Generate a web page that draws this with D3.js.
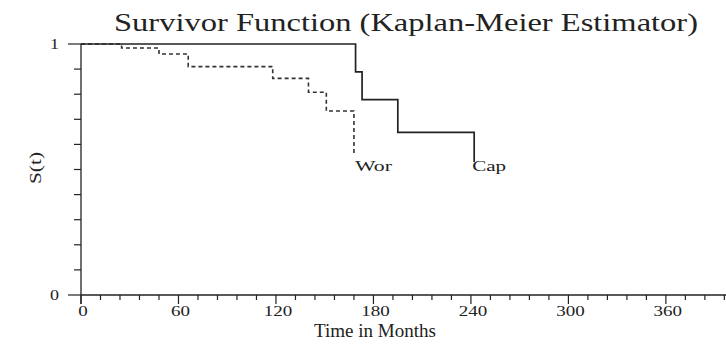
<!DOCTYPE html>
<html>
<head>
<meta charset="utf-8">
<script src="https://cdn.jsdelivr.net/npm/d3@7"></script>
<style>
  body { margin: 0; background: #fff; }
  text { font-family: "Liberation Serif", "Times New Roman", serif; fill: #222; }
</style>
</head>
<body>
<div id="chart"></div>
<script>
// step points: [months, S(t)]
var capTimes = [0, 169, 173, 195, 242];
var capSurv = [1, 0.889, 0.778, 0.648, 0.648];
var capEnd = 0.53;

var worTimes = [0, 25, 48, 66, 118, 140, 151, 168];
var worSurv = [1, 0.984, 0.96, 0.91, 0.863, 0.808, 0.733, 0.733];
var worEnd = 0.565;

var xTicks = [0, 60, 120, 180, 240, 300, 360];
var yTicks = [0, 1];

var width = 726, height = 344;
var svg = d3.select("#chart").append("svg")
    .attr("width", width).attr("height", height);

var x = d3.scaleLinear().domain([0, 397]).range([81, 726]);
var y = d3.scaleLinear().domain([0, 1]).range([295, 44]);

// axes
var xAxis = svg.append("g").attr("transform", "translate(0," + y(0) + ")");
xAxis.append("line").attr("x1", x(0)).attr("x2", width).attr("stroke", "#222").attr("stroke-width", 1.3);
xAxis.selectAll(".minor").data(d3.range(0, 397, 12)).enter().append("line")
    .attr("x1", function(d) { return x(d); }).attr("x2", function(d) { return x(d); })
    .attr("y1", 0).attr("y2", function(d) { return d % 60 === 0 ? 9 : 5; })
    .attr("stroke", "#222").attr("stroke-width", 1.2);
xAxis.selectAll(".lbl").data(xTicks).enter().append("text")
    .attr("x", function(d) { return x(d) + 2; }).attr("y", 21)
    .attr("text-anchor", "middle").attr("font-size", 15)
    .attr("textLength", function(d) { return String(d).length * 9.5; })
    .attr("lengthAdjust", "spacingAndGlyphs")
    .text(function(d) { return d; });

var yAxis = svg.append("g");
yAxis.append("line").attr("x1", x(0)).attr("x2", x(0))
    .attr("y1", y(1)).attr("y2", y(0) + 9).attr("stroke", "#222").attr("stroke-width", 1.3);
yAxis.selectAll(".minor").data(d3.range(0, 11)).enter().append("line")
    .attr("x1", function(d) { return x(0) - ((d === 0 || d === 10) ? 13 : 7); })
    .attr("x2", x(0))
    .attr("y1", function(d) { return y(d / 10); }).attr("y2", function(d) { return y(d / 10); })
    .attr("stroke", "#222").attr("stroke-width", 1.2);
yAxis.selectAll(".lbl").data(yTicks).enter().append("text")
    .attr("x", 59).attr("y", function(d) { return y(d) + 5; })
    .attr("text-anchor", "end").attr("font-size", 15)
    .attr("textLength", 9).attr("lengthAdjust", "spacingAndGlyphs")
    .text(function(d) { return d; });

// curves
function stepData(times, surv, endVal) {
  var pts = times.map(function(t, i) { return [t, surv[i]]; });
  pts.push([times[times.length - 1], endVal]);
  return pts;
}
var line = d3.line()
    .x(function(d) { return x(d[0]); })
    .y(function(d) { return y(d[1]); })
    .curve(d3.curveStepAfter);

svg.append("path").datum(stepData(worTimes, worSurv, worEnd))
    .attr("d", line).attr("fill", "none").attr("stroke", "#333")
    .attr("stroke-width", 1.6).attr("stroke-dasharray", "4,3");

svg.append("path").datum(stepData(capTimes, capSurv, capEnd))
    .attr("d", line).attr("fill", "none").attr("stroke", "#222")
    .attr("stroke-width", 1.7);

svg.append("text").attr("x", x(168) + 1).attr("y", 171).attr("font-size", 15)
    .attr("textLength", 37).attr("lengthAdjust", "spacingAndGlyphs").text("Wor");
svg.append("text").attr("x", x(242) - 2).attr("y", 171).attr("font-size", 15)
    .attr("textLength", 34).attr("lengthAdjust", "spacingAndGlyphs").text("Cap");

// titles
svg.append("text").attr("x", 406).attr("y", 31).attr("text-anchor", "middle")
    .attr("font-size", 26).attr("textLength", 584).attr("lengthAdjust", "spacingAndGlyphs")
    .text("Survivor Function (Kaplan-Meier Estimator)");
svg.append("text").attr("x", 375).attr("y", 337).attr("text-anchor", "middle")
    .attr("font-size", 18).attr("textLength", 122).attr("lengthAdjust", "spacingAndGlyphs")
    .text("Time in Months");
svg.append("text").attr("transform", "translate(41,168) rotate(-90)")
    .attr("text-anchor", "middle").attr("font-size", 16)
    .attr("textLength", 32).attr("lengthAdjust", "spacingAndGlyphs").text("S(t)");
</script>
</body>
</html>
